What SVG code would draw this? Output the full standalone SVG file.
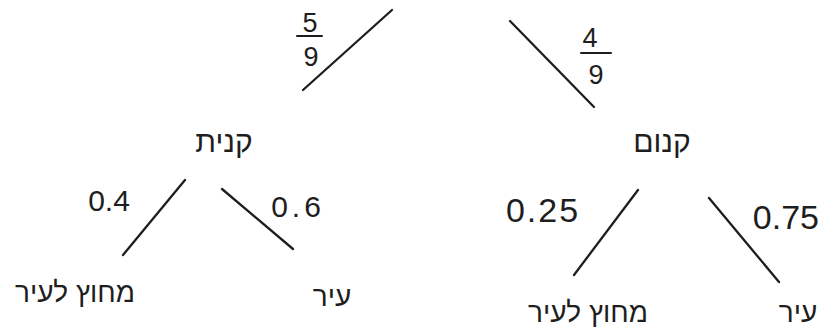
<svg xmlns="http://www.w3.org/2000/svg" width="822" height="329" viewBox="0 0 822 329">
<style>
.edge{stroke:#1e1e1e;stroke-width:2.3;stroke-linecap:round;fill:none}
.lbl{font-family:"Liberation Sans","DejaVu Sans",sans-serif;fill:#1e1e1e;text-anchor:middle}
.num{font-size:30px}
.big{font-size:34px}
.frac{font-size:27px}
.heb{font-size:30px}
.leaf{font-size:28px}
</style>
<rect width="822" height="329" fill="#ffffff"/>
<g id="connectors">
<line class="edge" x1="392" y1="10" x2="303" y2="90"/>
<line class="edge" x1="510" y1="21" x2="594" y2="107"/>
<line class="edge" x1="185" y1="180" x2="123" y2="255"/>
<line class="edge" x1="222" y1="189" x2="293" y2="249"/>
<line class="edge" x1="638" y1="190" x2="574" y2="275"/>
<line class="edge" x1="709" y1="198" x2="779" y2="282"/>
<g id="edge-labels">
<text class="lbl frac" x="310" y="32">5</text>
<line class="edge" x1="297" y1="36" x2="322" y2="36" style="stroke-width:2"/>
<text class="lbl frac" x="311" y="66">9</text>
<text class="lbl frac" x="590" y="47">4</text>
<line class="edge" x1="581" y1="53" x2="611" y2="53" style="stroke-width:2"/>
<text class="lbl frac" x="596" y="84">9</text>
<text class="lbl num" x="109" y="211">0.4</text>
<text class="lbl num" x="298" y="217" letter-spacing="4">0.6</text>
<text class="lbl big" x="543" y="222" letter-spacing="2">0.25</text>
<text class="lbl big" x="819" y="229" style="text-anchor:end">0.75</text>
</g>
</g>
<g id="node-bought-left"><text class="lbl heb" x="224" y="152">קנית</text></g>
<g id="node-bought-right"><text class="lbl heb" x="662" y="152">קנום</text></g>
<g id="leaf-left-outside"><text class="lbl leaf" x="75" y="302">מחוץ לעיר</text></g>
<g id="leaf-left-city"><text class="lbl leaf" x="332" y="306">עיר</text></g>
<g id="leaf-right-outside"><text class="lbl leaf" x="588" y="322">מחוץ לעיר</text></g>
<g id="leaf-right-city"><text class="lbl leaf" x="798" y="322">עיר</text></g>
</svg>
